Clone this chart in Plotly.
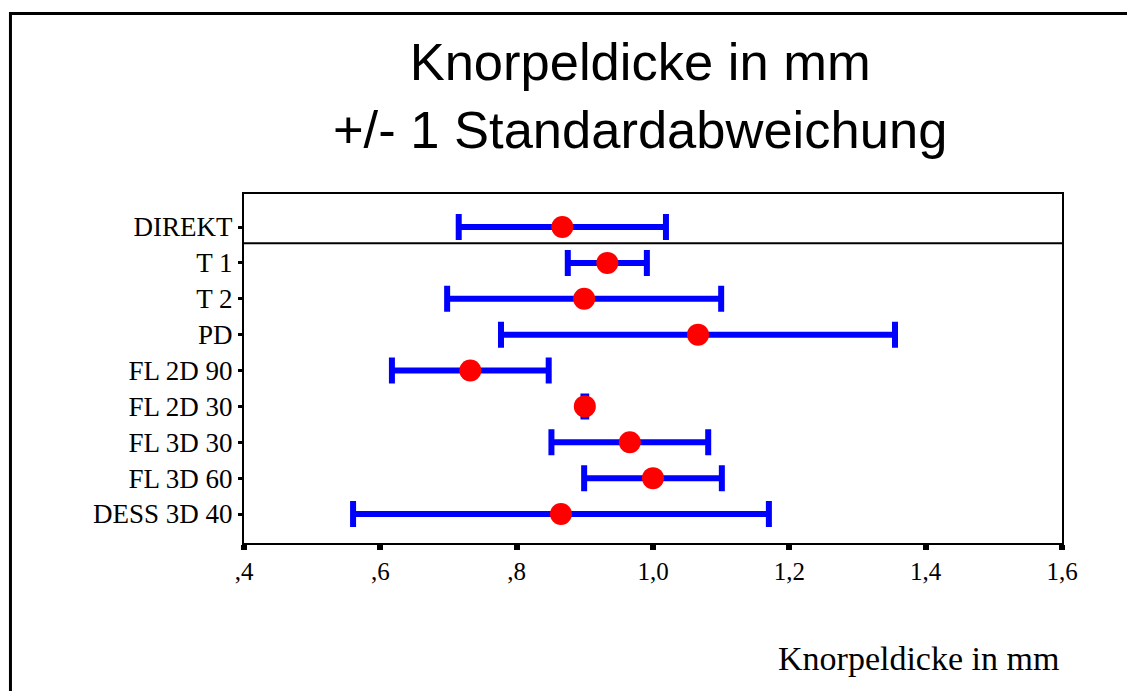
import plotly.graph_objects as go

categories = ["DIREKT", "T 1", "T 2", "PD", "FL 2D 90", "FL 2D 30", "FL 3D 30", "FL 3D 60", "DESS 3D 40"]
means = [0.867, 0.933, 0.899, 1.066, 0.732, 0.900, 0.966, 1.000, 0.865]
sds = [0.152, 0.058, 0.201, 0.289, 0.115, 0.002, 0.115, 0.101, 0.305]
x_tickvals = [0.4, 0.6, 0.8, 1.0, 1.2, 1.4, 1.6]
x_ticktext = [",4", ",6", ",8", "1,0", "1,2", "1,4", "1,6"]

n = len(categories)
ypos = [n - 1 - i for i in range(n)]

serif = "Times New Roman, Liberation Serif, serif"
sans = "Arial, Liberation Sans, sans-serif"

fig = go.Figure()
fig.add_trace(go.Scatter(
    x=means, y=ypos, mode="markers",
    marker=dict(color="#ff0000", size=22, line=dict(width=0)),
    error_x=dict(type="data", array=sds, visible=True, color="#0000ff", thickness=6, width=13),
    showlegend=False, hoverinfo="skip",
))

# separator line under the first row
fig.add_shape(type="line", xref="paper", x0=0, x1=1, yref="y", y0=n - 1 - 0.45, y1=n - 1 - 0.45,
              line=dict(color="black", width=2))
# outer frame
fig.add_shape(type="rect", xref="paper", yref="paper", x0=-0.2855, x1=1.3, y0=-0.7, y1=1.517,
              line=dict(color="black", width=3), fillcolor="rgba(0,0,0,0)", layer="above")

fig.add_annotation(text="Knorpeldicke in mm", xref="paper", yref="paper", x=0.999, y=-0.33,
                   xanchor="right", yanchor="middle", showarrow=False,
                   font=dict(family=serif, size=34, color="black"))

fig.update_layout(
    width=1127, height=691,
    margin=dict(l=244, r=65, t=194, b=148, pad=0),
    paper_bgcolor="white", plot_bgcolor="white",
    title=dict(text="Knorpeldicke in mm<br>+/- 1 Standardabweichung", xref="container", yref="container",
               x=0.568, xanchor="center", y=0.884, yanchor="middle",
               font=dict(family=sans, size=52.5, color="black")),
    xaxis=dict(range=[0.4, 1.6], tickvals=x_tickvals, ticktext=x_ticktext,
               showgrid=False, zeroline=False, showline=True, linecolor="black", linewidth=2, mirror=True,
               ticks="outside", ticklen=5, tickwidth=6, tickcolor="black",
               tickfont=dict(family=serif, size=25, color="black")),
    yaxis=dict(range=[-0.808, n - 1 + 0.92], tickvals=ypos, ticktext=categories,
               showgrid=False, zeroline=False, showline=True, linecolor="black", linewidth=2, mirror=True,
               ticks="outside", ticklen=4, tickwidth=3, tickcolor="black",
               tickfont=dict(family=serif, size=27, color="black")),
)

fig.write_html("out.html", config={"displayModeBar": False},
               post_script="document.body.style.margin='0';document.body.style.overflow='hidden';")
